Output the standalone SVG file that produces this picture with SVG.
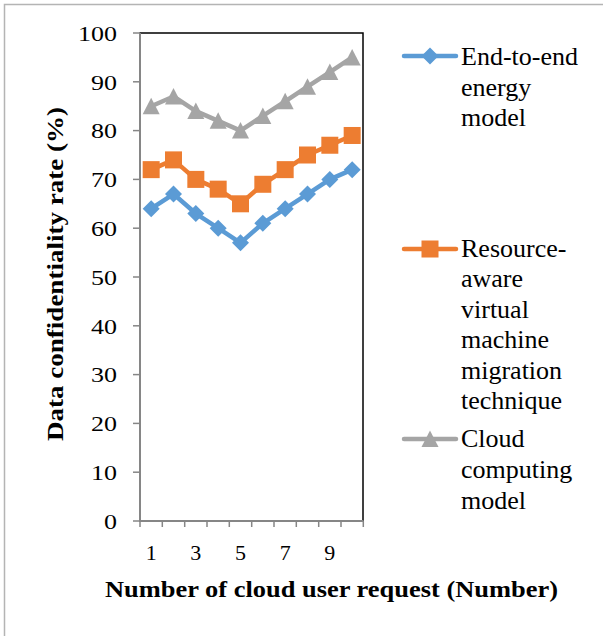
<svg xmlns="http://www.w3.org/2000/svg" width="603" height="636" viewBox="0 0 603 636">
<style>
.num{font-family:'Liberation Serif','Times New Roman',serif;font-size:22px;fill:#000}
.leg{font-family:'Liberation Serif','Times New Roman',serif;font-size:26px;fill:#000}
.ttl{font-family:'Liberation Serif','Times New Roman',serif;font-size:23px;font-weight:bold;fill:#000}
.tick{stroke:#868686;stroke-width:1.5}
.ser{fill:none;stroke-width:4.5;stroke-linejoin:round;stroke-linecap:round}
.legline{stroke-width:4.5;stroke-linecap:round}
</style>
<defs>
<path id="dia" d="M0,-8.5 L8.5,0 L0,8.5 L-8.5,0 Z" fill="#5B9BD5"/>
<rect id="sq" x="-8.5" y="-8.5" width="17" height="17" fill="#ED7D31"/>
<path id="tri" d="M0,-8.5 L8.5,8 L-8.5,8 Z" fill="#A5A5A5"/>
</defs>
<rect x="0" y="0" width="603" height="636" fill="#fff"/>
<rect x="4.5" y="4.5" width="640" height="660" fill="none" stroke="#B4B4B4" stroke-width="1.5"/>
<g id="plot-area">
<rect x="140" y="33" width="223" height="488" fill="#fff" stroke="#000" stroke-width="1.5"/>
<line x1="140" y1="33" x2="140" y2="521.5" stroke="#868686" stroke-width="2"/>
<line x1="139.5" y1="521" x2="363.5" y2="521" stroke="#868686" stroke-width="2"/>
</g>
<g id="y-axis">
<g class="tick">
<line x1="133" y1="33" x2="140" y2="33"/><line x1="133" y1="81.8" x2="140" y2="81.8"/><line x1="133" y1="130.6" x2="140" y2="130.6"/><line x1="133" y1="179.4" x2="140" y2="179.4"/><line x1="133" y1="228.2" x2="140" y2="228.2"/><line x1="133" y1="277" x2="140" y2="277"/><line x1="133" y1="325.8" x2="140" y2="325.8"/><line x1="133" y1="374.6" x2="140" y2="374.6"/><line x1="133" y1="423.4" x2="140" y2="423.4"/><line x1="133" y1="472.2" x2="140" y2="472.2"/><line x1="133" y1="521" x2="140" y2="521"/>
</g>
<g class="num" text-anchor="end">
<text x="117" y="40.7" textLength="39" lengthAdjust="spacingAndGlyphs">100</text>
<text x="117" y="89.5" textLength="26" lengthAdjust="spacingAndGlyphs">90</text>
<text x="117" y="138.3" textLength="26" lengthAdjust="spacingAndGlyphs">80</text>
<text x="117" y="187.1" textLength="26" lengthAdjust="spacingAndGlyphs">70</text>
<text x="117" y="235.9" textLength="26" lengthAdjust="spacingAndGlyphs">60</text>
<text x="117" y="284.7" textLength="26" lengthAdjust="spacingAndGlyphs">50</text>
<text x="117" y="333.5" textLength="26" lengthAdjust="spacingAndGlyphs">40</text>
<text x="117" y="382.3" textLength="26" lengthAdjust="spacingAndGlyphs">30</text>
<text x="117" y="431.1" textLength="26" lengthAdjust="spacingAndGlyphs">20</text>
<text x="117" y="479.9" textLength="26" lengthAdjust="spacingAndGlyphs">10</text>
<text x="117" y="528.7" textLength="13" lengthAdjust="spacingAndGlyphs">0</text>
</g>
<text class="ttl" transform="translate(63,441) rotate(-90)" textLength="334" lengthAdjust="spacingAndGlyphs">Data confidentiality rate (%)</text>
</g>
<g id="x-axis">
<g class="tick">
<line x1="140" y1="521" x2="140" y2="527"/><line x1="162.3" y1="521" x2="162.3" y2="527"/><line x1="184.7" y1="521" x2="184.7" y2="527"/><line x1="207" y1="521" x2="207" y2="527"/><line x1="229.3" y1="521" x2="229.3" y2="527"/><line x1="251.7" y1="521" x2="251.7" y2="527"/><line x1="274" y1="521" x2="274" y2="527"/><line x1="296.3" y1="521" x2="296.3" y2="527"/><line x1="318.7" y1="521" x2="318.7" y2="527"/><line x1="341" y1="521" x2="341" y2="527"/><line x1="363.3" y1="521" x2="363.3" y2="527"/>
</g>
<g class="num" text-anchor="middle">
<text x="151.2" y="560">1</text><text x="195.8" y="560">3</text><text x="240.5" y="560">5</text><text x="285.2" y="560">7</text><text x="329.8" y="560">9</text>
</g>
<text class="ttl" x="105" y="597" textLength="453" lengthAdjust="spacingAndGlyphs">Number of cloud user request (Number)</text>
</g>
<g id="connectors">
<polyline class="ser" stroke="#A5A5A5" points="151.17,106.2 173.5,96.44 195.83,111.08 218.17,120.84 240.5,130.6 262.83,115.96 285.17,101.32 307.5,86.68 329.83,72.04 352.17,57.4"/>
<polyline class="ser" stroke="#ED7D31" points="151.17,169.64 173.5,159.88 195.83,179.4 218.17,189.16 240.5,203.8 262.83,184.28 285.17,169.64 307.5,155 329.83,145.24 352.17,135.48"/>
<polyline class="ser" stroke="#5B9BD5" points="151.17,208.68 173.5,194.04 195.83,213.56 218.17,228.2 240.5,242.84 262.83,223.32 285.17,208.68 307.5,194.04 329.83,179.4 352.17,169.64"/>
</g>
<g id="series-cloud">
<use href="#tri" x="151.17" y="106.2"/><use href="#tri" x="173.5" y="96.44"/><use href="#tri" x="195.83" y="111.08"/><use href="#tri" x="218.17" y="120.84"/><use href="#tri" x="240.5" y="130.6"/><use href="#tri" x="262.83" y="115.96"/><use href="#tri" x="285.17" y="101.32"/><use href="#tri" x="307.5" y="86.68"/><use href="#tri" x="329.83" y="72.04"/><use href="#tri" x="352.17" y="57.4"/>
</g>
<g id="series-resource">
<use href="#sq" x="151.17" y="169.64"/><use href="#sq" x="173.5" y="159.88"/><use href="#sq" x="195.83" y="179.4"/><use href="#sq" x="218.17" y="189.16"/><use href="#sq" x="240.5" y="203.8"/><use href="#sq" x="262.83" y="184.28"/><use href="#sq" x="285.17" y="169.64"/><use href="#sq" x="307.5" y="155"/><use href="#sq" x="329.83" y="145.24"/><use href="#sq" x="352.17" y="135.48"/>
</g>
<g id="series-end">
<use href="#dia" x="151.17" y="208.68"/><use href="#dia" x="173.5" y="194.04"/><use href="#dia" x="195.83" y="213.56"/><use href="#dia" x="218.17" y="228.2"/><use href="#dia" x="240.5" y="242.84"/><use href="#dia" x="262.83" y="223.32"/><use href="#dia" x="285.17" y="208.68"/><use href="#dia" x="307.5" y="194.04"/><use href="#dia" x="329.83" y="179.4"/><use href="#dia" x="352.17" y="169.64"/>
</g>
<g id="legend-end" class="leg">
<line class="legline" x1="404" y1="56" x2="456" y2="56" stroke="#5B9BD5"/>
<use href="#dia" x="430" y="56"/>
<text x="461" y="65">End-to-end</text>
<text x="461" y="95.5">energy</text>
<text x="461" y="126">model</text>
</g>
<g id="legend-resource" class="leg">
<line class="legline" x1="404" y1="249" x2="456" y2="249" stroke="#ED7D31"/>
<use href="#sq" x="430" y="249"/>
<text x="461" y="257">Resource-</text>
<text x="461" y="287">aware</text>
<text x="461" y="317.5">virtual</text>
<text x="461" y="348">machine</text>
<text x="461" y="378.5">migration</text>
<text x="461" y="409">technique</text>
</g>
<g id="legend-cloud" class="leg">
<line class="legline" x1="404" y1="439" x2="456" y2="439" stroke="#A5A5A5"/>
<use href="#tri" x="430" y="439"/>
<text x="461" y="447">Cloud</text>
<text x="461" y="478">computing</text>
<text x="461" y="508.5">model</text>
</g>
</svg>
